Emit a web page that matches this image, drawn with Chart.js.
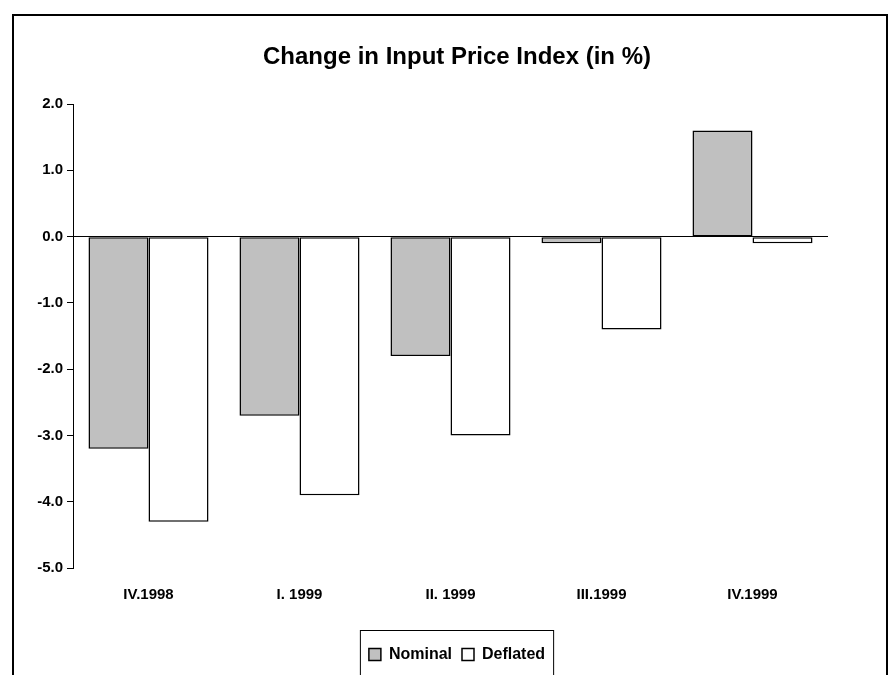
<!DOCTYPE html>
<html>
<head>
<meta charset="utf-8">
<script src="https://cdn.jsdelivr.net/npm/chart.js@4.4.1/dist/chart.umd.min.js"></script>
<style>
  html, body { margin: 0; padding: 0; background: #fff; }
  canvas { display: block; }
</style>
</head>
<body>
<canvas id="grafica" width="890" height="675"></canvas>
<script>
const quarters = ['IV.1998', 'I. 1999', 'II. 1999', 'III.1999', 'IV.1999'];
const nominal = [-3.2, -2.7, -1.8, -0.1, 1.6];
const deflated = [-4.3, -3.9, -3.0, -1.4, -0.1];
const chartTitle = 'Change in Input Price Index (in %)';

const FONT = "'Liberation Sans', Arial, sans-serif";

// outer frame, title and box around the legend
const frame = {
    id: 'frame',
    afterDraw(chart) {
        const c = chart.ctx;
        c.save();
        c.strokeStyle = '#000';
        c.lineWidth = 2;
        c.strokeRect(13, 15, 874, 700);

        c.fillStyle = '#000';
        c.font = 'bold 24px ' + FONT;
        c.textAlign = 'center';
        c.textBaseline = 'alphabetic';
        c.fillText(chartTitle, 457, 64);

        const hb = chart.legend.legendHitBoxes;
        if (hb && hb.length) {
            const first = hb[0], last = hb[hb.length - 1];
            const x0 = first.left - 9;
            const x1 = last.left + last.width + 8;
            c.lineWidth = 1;
            c.strokeStyle = '#000';
            c.strokeRect(x0 + 0.5, 630.5, x1 - x0, 80);
        }
        c.restore();
    }
};

const ctx = document.getElementById('grafica');

new Chart(ctx, {
    type: 'bar',
    data: {
        labels: quarters,
        datasets: [{
            label: 'Nominal',
            data: nominal,
            backgroundColor: '#c0c0c0',
            borderColor: '#000',
            borderWidth: 1.5,
            borderSkipped: false
        }, {
            label: 'Deflated',
            data: deflated,
            backgroundColor: '#ffffff',
            borderColor: '#000',
            borderWidth: 1.5,
            borderSkipped: false
        }]
    },
    options: {
        responsive: false,
        animation: false,
        datasets: {
            bar: { barPercentage: 1.0, categoryPercentage: 0.795 }
        },
        layout: {
            padding: { top: 104, left: 24, right: 0, bottom: 2.4 }
        },
        plugins: {
            title: { display: false },
            tooltip: { enabled: false },
            legend: {
                display: true,
                position: 'bottom',
                labels: {
                    boxWidth: 12,
                    boxHeight: 12,
                    padding: 10,
                    color: '#000',
                    font: { family: FONT, size: 16, weight: 'bold' }
                }
            }
        },
        scales: {
            x: {
                grid: { display: false, drawTicks: false },
                border: { display: false },
                ticks: {
                    color: '#000',
                    padding: 18,
                    font: { family: FONT, size: 15, weight: 'bold' }
                },
                afterFit(scale) { scale.height = 68.4; }
            },
            y: {
                min: -5,
                max: 2,
                ticks: {
                    stepSize: 1,
                    color: '#000',
                    padding: 4,
                    font: { family: FONT, size: 15, weight: 'bold' },
                    callback: v => v.toFixed(1)
                },
                grid: {
                    color: c => (c.tick && c.tick.value === 0) ? '#000' : 'rgba(0,0,0,0)',
                    tickColor: '#000',
                    tickLength: 6
                },
                border: { display: true, color: '#000', width: 1 },
                afterFit(scale) { scale.width = 49; }
            },
            yRight: {
                position: 'right',
                display: true,
                grid: { display: false },
                border: { display: false },
                ticks: { display: false },
                afterFit(scale) { scale.width = 62; }
            }
        }
    },
    plugins: [frame]
});
</script>
</body>
</html>
